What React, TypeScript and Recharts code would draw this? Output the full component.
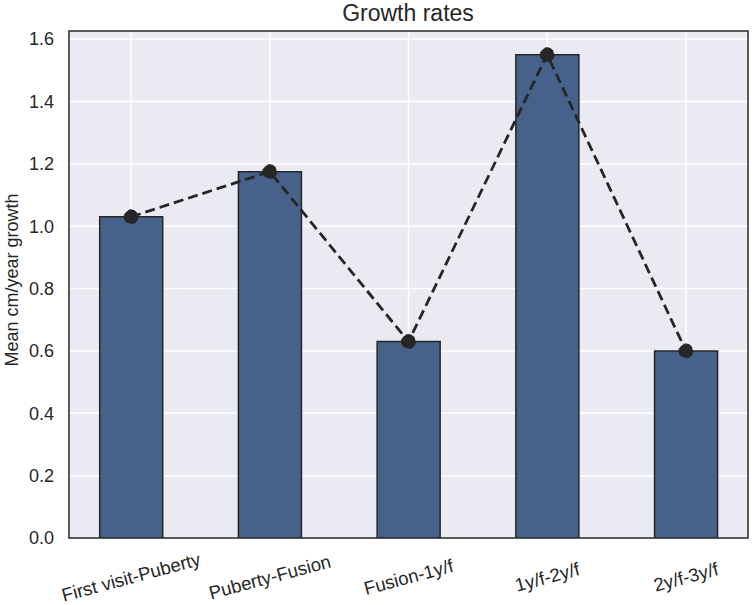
import React from 'react';
import { ComposedChart, Bar, Line, XAxis, YAxis, CartesianGrid, ReferenceArea } from 'recharts';

const categories = ['First visit-Puberty', 'Puberty-Fusion', 'Fusion-1y/f', '1y/f-2y/f', '2y/f-3y/f'];
const growthRates = [1.03, 1.175, 0.63, 1.55, 0.6];
const yTicks = [0, 0.2, 0.4, 0.6, 0.8, 1.0, 1.2, 1.4, 1.6];

const data = categories.map((label, i) => ({ pos: i, label, rate: growthRates[i] }));

const xDomain: [number, number] = [-0.4475, 4.4475];
const yDomain: [number, number] = [0, 1.626];

const font = '"Liberation Sans", Arial, sans-serif';
const ink = '#262626';

const XTick = (props: any) => {
  const { x, y, payload } = props;
  return (
    <g transform={`translate(${x},${y + 39})`}>
      <text
        transform="rotate(-15)"
        textAnchor="middle"
        dominantBaseline="central"
        fontSize={18.5}
        fontFamily={font}
        fill={ink}
      >
        {categories[payload.value]}
      </text>
    </g>
  );
};

const App: React.FC = () => {
  return (
    <div style={{ position: 'absolute', left: 0, top: 0, width: 753, height: 605, background: '#fff', fontFamily: font }}>
      <div
        style={{
          position: 'absolute',
          left: 408,
          top: 13,
          transform: 'translate(-50%, -50%)',
          whiteSpace: 'nowrap',
          fontSize: 23,
          color: ink,
        }}
      >
        Growth rates
      </div>
      <div
        style={{
          position: 'absolute',
          left: 12,
          top: 280,
          transform: 'translate(-50%, -50%) rotate(-90deg)',
          whiteSpace: 'nowrap',
          fontSize: 18,
          color: ink,
        }}
      >
        Mean cm/year growth
      </div>
      <ComposedChart
        width={753}
        height={605}
        data={data}
        margin={{ top: 31, right: 5, bottom: 0, left: 0 }}
      >
        <CartesianGrid fill="#EAEAF2" stroke="#ffffff" strokeWidth={1.5} />
        <XAxis
          dataKey="pos"
          type="number"
          domain={xDomain}
          ticks={[0, 1, 2, 3, 4]}
          height={67}
          tickLine={false}
          tickSize={0}
          tickMargin={0}
          axisLine={false}
          tick={<XTick />}
          interval={0}
        />
        <YAxis
          type="number"
          domain={yDomain}
          ticks={yTicks}
          width={69}
          tickLine={false}
          tickSize={6}
          tickMargin={9}
          tickFormatter={(v: number) => v.toFixed(1)}
          tick={{ fontSize: 18, fill: ink, fontFamily: font }}
          axisLine={false}
          allowDataOverflow
        />
        <Bar
          dataKey="rate"
          barSize={63}
          fill="#46618A"
          stroke={ink}
          strokeWidth={1.5}
          isAnimationActive={false}
        />
        <Line
          dataKey="rate"
          type="linear"
          stroke={ink}
          strokeWidth={2.8}
          strokeDasharray="10 5"
          dot={{ r: 7, fill: ink, stroke: ink, strokeWidth: 1 }}
          activeDot={false}
          isAnimationActive={false}
        />
        <ReferenceArea
          x1={xDomain[0]}
          x2={xDomain[1]}
          y1={yDomain[0]}
          y2={yDomain[1]}
          fill="none"
          fillOpacity={0}
          stroke={ink}
          strokeWidth={1.5}
          ifOverflow="visible"
        />
      </ComposedChart>
    </div>
  );
};

export default App;
